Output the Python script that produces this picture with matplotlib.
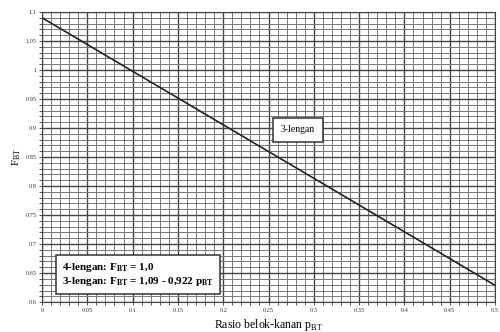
import numpy as np
import matplotlib
matplotlib.use("Agg")
import matplotlib.pyplot as plt
from matplotlib.ticker import MultipleLocator

# Data
p_bt = [0.0, 0.5]
f_bt = [1.09 - 0.922 * p for p in p_bt]
x_ticks = [0, 0.05, 0.1, 0.15, 0.2, 0.25, 0.3, 0.35, 0.4, 0.45, 0.5]
x_tick_labels = ["0", "0.05", "0.1", "0.15", "0.2", "0.25", "0.3", "0.35", "0.4", "0.45", "0.5"]
y_ticks = [0.6, 0.65, 0.7, 0.75, 0.8, 0.85, 0.9, 0.95, 1.0, 1.05, 1.1]
y_tick_labels = ["0.6", "0.65", "0.7", "0.75", "0.8", "0.85", "0.9", "0.95", "1", "1.05", "1.1"]

plt.rcParams['font.family'] = ['Liberation Serif', 'DejaVu Serif']
plt.rcParams['mathtext.fontset'] = 'custom'
plt.rcParams['mathtext.rm'] = 'Liberation Serif'
plt.rcParams['mathtext.bf'] = 'Liberation Serif:bold'

fig = plt.figure(figsize=(5.0, 3.32), dpi=100)
ax = fig.add_axes([0.084, 0.09, 0.906, 0.874])

ax.set_xlim(0, 0.5)
ax.set_ylim(0.6, 1.1)
ax.set_xticks(x_ticks)
ax.set_xticklabels(x_tick_labels, fontsize=4.5, color='#444444')
ax.set_yticks(y_ticks)
ax.set_yticklabels(y_tick_labels, fontsize=4.5, color='#444444')
ax.xaxis.set_minor_locator(MultipleLocator(0.01))
ax.yaxis.set_minor_locator(MultipleLocator(0.01))
ax.grid(which='major', color='#444444', linewidth=1.0)
ax.grid(which='minor', color='#777777', linewidth=0.7)
ax.tick_params(which='both', length=2, width=0.6, pad=2, colors='#333333')
ax.set_axisbelow(True)
for s in ax.spines.values():
    s.set_color('#444444')
    s.set_linewidth(0.8)

ax.plot(p_bt, f_bt, color='#222222', linewidth=1.2)

ax.text(0.2826, 0.8966, "3-lengan", fontsize=7, ha='center', va='center',
        bbox=dict(boxstyle='square,pad=0.8', fc='white', ec='#333333', lw=1.1))

ax.text(0.106, 0.6475,
        "4-lengan: F$_{\\mathbf{BT}}$ = 1,0\n3-lengan: F$_{\\mathbf{BT}}$ = 1,09 - 0,922 p$_{\\mathbf{BT}}$",
        fontsize=8, fontweight='bold', ha='center', va='center', multialignment='left',
        linespacing=1.15,
        bbox=dict(boxstyle='square,pad=0.55', fc='white', ec='#333333', lw=1.1))

ax.set_xlabel("Rasio belok-kanan p$_{\\mathrm{BT}}$", fontsize=8.5, labelpad=2)
ax.xaxis.set_label_coords(0.5, -0.05)
ax.xaxis.label.set_va('top')
ax.set_ylabel("F$_{\\mathrm{BT}}$", fontsize=8, labelpad=2)

fig.savefig("out.png", dpi=100)
